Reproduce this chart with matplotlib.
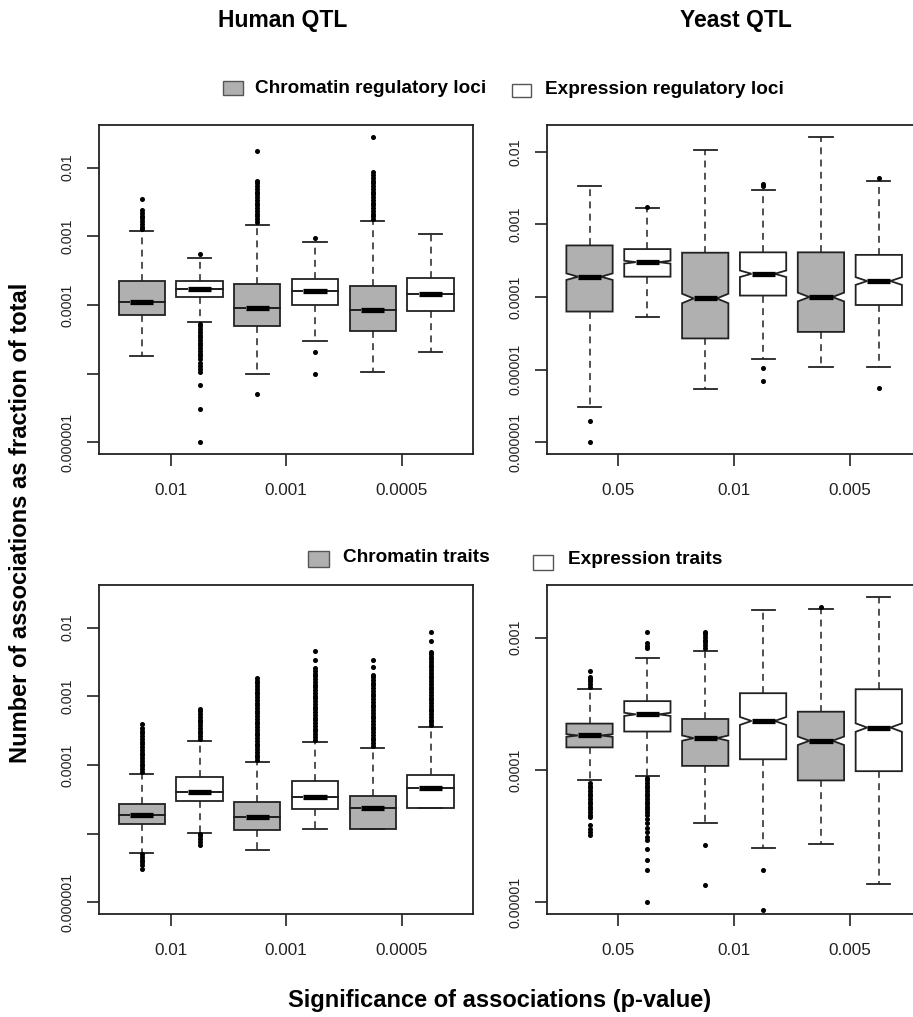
import matplotlib
matplotlib.use('Agg')
import matplotlib.pyplot as plt
from matplotlib.patches import Rectangle
from matplotlib.ticker import NullLocator

plt.rcParams['font.family'] = ['Liberation Sans', 'DejaVu Sans']

W, H = 913, 1017
GRAY = '#b0b0b0'
INK = '#222222'

human_groups = ['0.01', '0.001', '0.0005']
yeast_groups = ['0.05', '0.01', '0.005']
box_fill = [GRAY, 'white', GRAY, 'white', GRAY, 'white']

# all values are log10(fraction of total); boxes go chromatin, expression per threshold

# Human QTL, regulatory loci
hl_whishi = [-2.92, -3.31, -2.83, -3.08, -2.78, -2.97]
hl_q3 = [-3.65, -3.65, -3.70, -3.62, -3.73, -3.61]
hl_med = [-3.95, -3.77, -4.04, -3.80, -4.08, -3.84]
hl_q1 = [-4.14, -3.89, -4.30, -4.00, -4.38, -4.09]
hl_whislo = [-4.74, -4.25, -5.00, -4.52, -4.98, -4.69]
hl_notch = [0, 0, 0, 0, 0, 0]
hl_fliers = [
    [-2.90, -2.86, -2.82, -2.78, -2.74, -2.70, -2.66, -2.62, -2.46],
    [-3.26, -4.27, -4.31, -4.35, -4.39, -4.43, -4.47, -4.51, -4.55, -4.59, -4.63,
     -4.67, -4.71, -4.75, -4.79, -4.84, -4.89, -4.93, -4.97, -5.16, -5.52, -6.00],
    [-2.79, -2.75, -2.71, -2.67, -2.63, -2.59, -2.55, -2.51, -2.47, -2.43, -2.39,
     -2.35, -2.31, -2.27, -2.23, -2.19, -1.76, -5.30],
    [-3.03, -4.69, -5.00],
    [-2.75, -2.71, -2.67, -2.63, -2.59, -2.55, -2.51, -2.47, -2.43, -2.39, -2.35,
     -2.31, -2.27, -2.23, -2.19, -2.15, -2.11, -2.07, -1.56],
    [],
]

# Yeast QTL, regulatory loci
yl_whishi = [-2.47, -2.77, -1.98, -2.53, -1.80, -2.40]
yl_q3 = [-3.29, -3.34, -3.39, -3.385, -3.385, -3.42]
yl_med = [-3.72, -3.52, -4.02, -3.68, -4.00, -3.78]
yl_q1 = [-4.20, -3.72, -4.57, -3.98, -4.48, -4.11]
yl_whislo = [-5.52, -4.27, -5.27, -4.85, -4.96, -4.96]
yl_notch = [0.045, 0.02, 0.065, 0.045, 0.06, 0.053]
yl_fliers = [
    [-5.70, -6.00],
    [-2.76],
    [],
    [-2.445, -2.47, -4.98, -5.16],
    [],
    [-2.36, -5.25],
]

# Human QTL, traits
ht_whishi = [-4.13, -3.65, -3.96, -3.66, -3.75, -3.45]
ht_q3 = [-4.57, -4.17, -4.54, -4.24, -4.45, -4.15]
ht_med = [-4.73, -4.39, -4.76, -4.46, -4.63, -4.33]
ht_q1 = [-4.86, -4.52, -4.94, -4.64, -4.93, -4.63]
ht_whislo = [-5.28, -4.99, -5.24, -4.93, -4.93, -4.63]
ht_notch = [0, 0, 0, 0, 0, 0]
ht_fliers = [
    [-4.10, -4.06, -4.02, -3.98, -3.94, -3.90, -3.86, -3.82, -3.78, -3.74, -3.70,
     -3.66, -3.62, -3.58, -3.54, -3.50, -3.46, -3.41,
     -5.30, -5.34, -5.38, -5.42, -5.46, -5.51],
    [-3.62, -3.58, -3.54, -3.50, -3.46, -3.42, -3.38, -3.34, -3.30, -3.26, -3.22,
     -3.18, -5.00, -5.04, -5.08, -5.12, -5.16],
    [-3.93, -3.89, -3.85, -3.81, -3.77, -3.73, -3.69, -3.65, -3.61, -3.57, -3.53,
     -3.49, -3.45, -3.41, -3.37, -3.33, -3.29, -3.25, -3.21, -3.17, -3.13, -3.09,
     -3.05, -3.01, -2.97, -2.93, -2.89, -2.85, -2.81, -2.77, -2.74],
    [-3.63, -3.59, -3.55, -3.51, -3.47, -3.43, -3.39, -3.35, -3.31, -3.27, -3.23,
     -3.19, -3.15, -3.11, -3.07, -3.03, -2.99, -2.95, -2.91, -2.87, -2.83, -2.79,
     -2.75, -2.71, -2.67, -2.63, -2.59, -2.47, -2.34],
    [-3.72, -3.68, -3.64, -3.60, -3.56, -3.52, -3.48, -3.44, -3.40, -3.36, -3.32,
     -3.28, -3.24, -3.20, -3.16, -3.12, -3.08, -3.04, -3.00, -2.96, -2.92, -2.88,
     -2.84, -2.80, -2.76, -2.72, -2.69, -2.57, -2.47],
    [-3.42, -3.38, -3.34, -3.30, -3.26, -3.22, -3.18, -3.14, -3.10, -3.06, -3.02,
     -2.98, -2.94, -2.90, -2.86, -2.82, -2.78, -2.74, -2.70, -2.66, -2.62, -2.58,
     -2.54, -2.50, -2.46, -2.42, -2.38, -2.35, -2.19, -2.06],
]

# Yeast QTL, traits
yt_whishi = [-3.39, -3.15, -3.10, -2.79, -2.78, -2.69]
yt_q3 = [-3.65, -3.48, -3.615, -3.42, -3.56, -3.39]
yt_med = [-3.74, -3.58, -3.76, -3.63, -3.78, -3.68]
yt_q1 = [-3.83, -3.71, -3.97, -3.92, -4.08, -4.01]
yt_whislo = [-4.08, -4.05, -4.40, -4.59, -4.56, -4.86]
yt_notch = [0.01, 0.012, 0.02, 0.03, 0.032, 0.032]
yt_fliers = [
    [-3.37, -3.35, -3.33, -3.31, -3.295, -3.25, -4.10, -4.12, -4.14, -4.16, -4.18,
     -4.20, -4.22, -4.24, -4.26, -4.28, -4.30, -4.32, -4.34, -4.36, -4.42, -4.45,
     -4.47, -4.49],
    [-2.96, -3.04, -3.06, -3.08, -4.06, -4.08, -4.10, -4.12, -4.14, -4.16, -4.18,
     -4.20, -4.22, -4.24, -4.26, -4.28, -4.30, -4.32, -4.34, -4.37, -4.40, -4.44,
     -4.47, -4.51, -4.53, -4.60, -4.68, -4.76, -5.00],
    [-2.955, -2.975, -2.995, -3.015, -3.035, -3.055, -3.075, -4.57, -4.87],
    [-4.76, -5.06],
    [-2.77],
    [],
]


def make_stats(whishi, q3, med, q1, whislo, notch, fliers):
    stats = []
    for i in range(len(med)):
        stats.append({
            'whishi': 10 ** whishi[i], 'q3': 10 ** q3[i], 'med': 10 ** med[i],
            'q1': 10 ** q1[i], 'whislo': 10 ** whislo[i],
            'cihi': 10 ** (med[i] + notch[i]), 'cilo': 10 ** (med[i] - notch[i]),
            'fliers': [10 ** v for v in fliers[i]],
        })
    return stats


def draw_panel(rect, stats, groups, ylim, yticks, ylabels):
    ax = fig.add_axes(rect)
    ax.set_yscale('log')
    res = ax.bxp(stats, positions=range(1, 7), widths=0.8, shownotches=True,
                 patch_artist=True, manage_ticks=False,
                 boxprops=dict(edgecolor=INK, linewidth=1.3),
                 whiskerprops=dict(color=INK, linewidth=1.1, linestyle=(0, (4.5, 3.5))),
                 capprops=dict(color=INK, linewidth=1.3),
                 medianprops=dict(color='black', linewidth=3.8, solid_capstyle='butt'),
                 flierprops=dict(marker='o', markersize=2.6, markerfacecolor='black',
                                 markeredgecolor='black', linestyle='none'))
    for box, c in zip(res['boxes'], box_fill):
        box.set_facecolor(c)
    ax.set_xlim(0.26, 6.74)
    ax.set_ylim(10 ** ylim[0], 10 ** ylim[1])
    ax.set_xticks([1.5, 3.5, 5.5], groups)
    ax.set_yticks([10 ** v for v in yticks], ylabels)
    ax.yaxis.set_minor_locator(NullLocator())
    ax.tick_params(axis='x', length=8.6, width=1.2, pad=12, labelsize=12.3,
                   colors=INK)
    ax.tick_params(axis='y', length=8.6, width=1.2, pad=9, labelsize=10.3,
                   labelrotation=90, colors=INK)
    for lab in ax.get_yticklabels():
        lab.set_verticalalignment('center')
    for s in ax.spines.values():
        s.set_linewidth(1.3)
        s.set_color(INK)
    return ax


def fx(px):
    return px / W


def fy(py):
    return 1 - py / H


fig = plt.figure(figsize=(9.13, 10.17), dpi=100)

top_rect_y = [fy(454.3), (454.3 - 124.7) / H]
bot_rect_y = [fy(914.3), (914.3 - 584.7) / H]
left_x = [fx(99), 374.3 / W]
right_x = [fx(546.7), 374.9 / W]

draw_panel([left_x[0], top_rect_y[0], left_x[1], top_rect_y[1]],
           make_stats(hl_whishi, hl_q3, hl_med, hl_q1, hl_whislo, hl_notch, hl_fliers),
           human_groups, (-6.175, -1.374), [-2, -3, -4, -5, -6],
           ['0.01', '0.001', '0.0001', '', '0.000001'])
draw_panel([right_x[0], top_rect_y[0], right_x[1], top_rect_y[1]],
           make_stats(yl_whishi, yl_q3, yl_med, yl_q1, yl_whislo, yl_notch, yl_fliers),
           yeast_groups, (-6.165, -1.628), [-2, -3, -4, -5, -6],
           ['0.01', '0.001', '0.0001', '0.00001', '0.000001'])
draw_panel([left_x[0], bot_rect_y[0], left_x[1], bot_rect_y[1]],
           make_stats(ht_whishi, ht_q3, ht_med, ht_q1, ht_whislo, ht_notch, ht_fliers),
           human_groups, (-6.175, -1.374), [-2, -3, -4, -5, -6],
           ['0.01', '0.001', '0.0001', '', '0.000001'])
draw_panel([right_x[0], bot_rect_y[0], right_x[1], bot_rect_y[1]],
           make_stats(yt_whishi, yt_q3, yt_med, yt_q1, yt_whislo, yt_notch, yt_fliers),
           yeast_groups, (-5.093, -2.599), [-3, -4, -5],
           ['0.001', '0.0001', '0.00001'])

# column titles
fig.text(fx(283), fy(20), 'Human QTL', ha='center', va='center',
         fontsize=16.5, fontweight='bold')
fig.text(fx(736), fy(20), 'Yeast QTL', ha='center', va='center',
         fontsize=16.5, fontweight='bold')


def legend_item(x0, y0, x1, y1, color, text, tx, ty):
    fig.add_artist(Rectangle((fx(x0), fy(y1)), (x1 - x0) / W, (y1 - y0) / H,
                             transform=fig.transFigure, facecolor=color,
                             edgecolor='#555555', linewidth=1.0))
    fig.text(fx(tx), fy(ty), text, ha='left', va='center', fontsize=13.7,
             fontweight='bold')


legend_item(222.7, 81, 242.7, 95, GRAY, 'Chromatin regulatory loci', 255, 89)
legend_item(511.7, 84, 530.7, 97, 'white', 'Expression regulatory loci', 545, 90)
legend_item(308, 551, 329, 567, GRAY, 'Chromatin traits', 343, 558)
legend_item(533, 555, 553, 570, 'white', 'Expression traits', 568, 560)

fig.text(fx(21), fy(523), 'Number of associations as fraction of total',
         rotation=90, ha='center', va='center', fontsize=17, fontweight='bold')
fig.text(fx(500), fy(1001), 'Significance of associations (p-value)',
         ha='center', va='center', fontsize=17, fontweight='bold')

plt.savefig('out.png', dpi=100)
